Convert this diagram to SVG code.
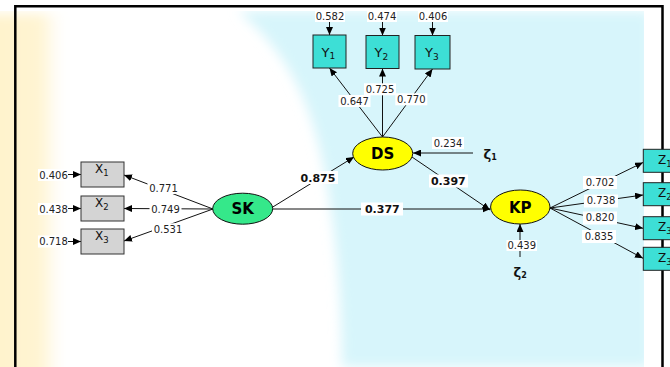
<svg xmlns="http://www.w3.org/2000/svg" width="670" height="367" viewBox="0 0 670 367">
<style>
.num{font-family:"DejaVu Sans",Verdana,sans-serif;font-size:10px;fill:#222;text-anchor:middle}
.bnum{font-family:"DejaVu Sans",Verdana,sans-serif;font-size:11px;font-weight:bold;fill:#111;text-anchor:middle}
.bg{fill:#fff}
.ind{fill:#3ddfd6;stroke:#222;stroke-width:1}
.xin{fill:#d4d4d4;stroke:#333;stroke-width:1}
.lv{stroke:#111;stroke-width:1}
.lvt{font-family:"DejaVu Sans",Verdana,sans-serif;font-size:15px;font-weight:bold;fill:#000;text-anchor:middle}
.it{font-family:"DejaVu Sans",Verdana,sans-serif;fill:#111}
.zeta{font-family:"DejaVu Sans",sans-serif;font-weight:bold;font-size:13px;fill:#111}
.c{stroke:#111;stroke-width:1;fill:none;marker-end:url(#ah)}
</style>
<defs>
<marker id="ah" markerUnits="userSpaceOnUse" markerWidth="8" markerHeight="7" refX="8" refY="3.5" orient="auto">
<path d="M0,0 L8,3.5 L0,7 z" fill="#000"/>
</marker>
<filter id="soft" x="-20%" y="-20%" width="140%" height="140%"><feGaussianBlur stdDeviation="6"/></filter>
<linearGradient id="cream" x1="0" y1="0" x2="1" y2="0">
<stop offset="0" stop-color="#fff2c8"/>
<stop offset="0.75" stop-color="#fff4d2"/>
<stop offset="1" stop-color="#ffffff" stop-opacity="0"/>
</linearGradient>
</defs>
<!-- background -->
<rect x="0" y="0" width="670" height="367" fill="#fff"/>
<rect x="-40" y="14" width="108" height="370" fill="url(#cream)" filter="url(#soft)"/>
<path d="M238,11 L650,11 L650,367 L342,367 C342,300 336,220 320,150 C306,90 280,45 238,11 Z" fill="#d7f5fb" filter="url(#soft)"/>
<rect x="644" y="0" width="30" height="367" fill="#fff"/>
<rect x="0" y="0" width="670" height="11" fill="#fff"/>
<!-- frame -->
<path d="M15.3,372 L15.3,6.3 L662.5,6.3 L662.5,372" fill="none" stroke="#000" stroke-width="2.5"/>

<g id="connectors">
<line class="c" x1="329.5" y1="21" x2="329.5" y2="35"/>
<line class="c" x1="382.5" y1="21" x2="382.5" y2="35.5"/>
<line class="c" x1="432.5" y1="21" x2="432.5" y2="35.5"/>
<line class="c" x1="382.5" y1="137" x2="329.5" y2="68"/>
<line class="c" x1="382.5" y1="137" x2="382.5" y2="68.5"/>
<line class="c" x1="382.5" y1="137" x2="432.5" y2="69"/>
<line class="c" x1="68" y1="174.5" x2="81" y2="174.5"/>
<line class="c" x1="68" y1="208.5" x2="81" y2="208.5"/>
<line class="c" x1="68" y1="241.5" x2="81" y2="241.5"/>
<line class="c" x1="213" y1="209" x2="124" y2="175"/>
<line class="c" x1="213" y1="209" x2="124" y2="208.5"/>
<line class="c" x1="213" y1="209" x2="124" y2="241"/>
<line class="c" x1="272" y1="207.5" x2="354" y2="157"/>
<line class="c" x1="272.7" y1="209" x2="490.5" y2="209"/>
<line class="c" x1="412" y1="157" x2="490" y2="210"/>
<line class="c" x1="473" y1="153" x2="413" y2="153"/>
<line class="c" x1="520" y1="257" x2="520" y2="224"/>
<line class="c" x1="550" y1="208" x2="643" y2="162.5"/>
<line class="c" x1="550" y1="208" x2="643" y2="195"/>
<line class="c" x1="550" y1="208" x2="643" y2="228.3"/>
<line class="c" x1="550" y1="208" x2="643" y2="258.3"/>
</g>

<g id="labels">
<rect class="bg" x="315" y="11" width="30" height="11"/><text class="num" x="330" y="20.2">0.582</text>
<rect class="bg" x="367" y="11" width="30" height="11"/><text class="num" x="382" y="20.2">0.474</text>
<rect class="bg" x="418" y="11" width="30" height="11"/><text class="num" x="433" y="20.2">0.406</text>
<rect class="bg" x="338.5" y="95" width="32" height="12"/><text class="num" x="354.5" y="104.6">0.647</text>
<rect class="bg" x="364" y="83.3" width="32" height="12"/><text class="num" x="380" y="92.9">0.725</text>
<rect class="bg" x="395.3" y="93.3" width="32" height="12"/><text class="num" x="411.3" y="102.9">0.770</text>
<rect class="bg" x="38" y="169" width="30" height="12"/><text class="num" x="53.5" y="178.6">0.406</text>
<rect class="bg" x="38" y="203" width="30" height="12"/><text class="num" x="53.5" y="212.6">0.438</text>
<rect class="bg" x="38" y="235.5" width="30" height="12"/><text class="num" x="53.5" y="245.1">0.718</text>
<rect class="bg" x="147.5" y="182" width="32" height="12"/><text class="num" x="163.5" y="191.6">0.771</text>
<rect class="bg" x="149.5" y="203.3" width="32" height="12"/><text class="num" x="165.5" y="212.9">0.749</text>
<rect class="bg" x="152" y="223.3" width="32" height="12"/><text class="num" x="168" y="232.9">0.531</text>
<rect class="bg" x="298" y="171" width="40" height="13"/><text class="bnum" x="318" y="181.5">0.875</text>
<rect class="bg" x="429" y="174.5" width="39" height="13"/><text class="bnum" x="448.3" y="185">0.397</text>
<rect class="bg" x="361" y="202.5" width="42" height="13"/><text class="bnum" x="382.3" y="213">0.377</text>
<rect class="bg" x="432" y="137" width="32" height="12"/><text class="num" x="448" y="146.9">0.234</text>
<rect class="bg" x="506.5" y="240" width="30.5" height="11"/><text class="num" x="521.7" y="249.1">0.439</text>
<rect class="bg" x="583" y="176" width="34" height="13"/><text class="num" x="600" y="185.9">0.702</text>
<rect class="bg" x="584" y="194.5" width="34" height="13"/><text class="num" x="601" y="204.3">0.738</text>
<rect class="bg" x="583" y="211.5" width="34" height="13"/><text class="num" x="600" y="221.3">0.820</text>
<rect class="bg" x="582" y="230" width="34" height="13"/><text class="num" x="599" y="239.6">0.835</text>
</g>

<g id="Y1"><rect class="ind" x="313" y="35" width="33" height="33"/><text class="it" x="321.5" y="56.5" font-size="13">Y<tspan font-size="9" dy="2.5">1</tspan></text></g>
<g id="Y2"><rect class="ind" x="366" y="35.5" width="33" height="33"/><text class="it" x="374.5" y="57" font-size="13">Y<tspan font-size="9" dy="2.5">2</tspan></text></g>
<g id="Y3"><rect class="ind" x="415" y="35.5" width="35" height="33.5"/><text class="it" x="425" y="57" font-size="13">Y<tspan font-size="9" dy="2.5">3</tspan></text></g>

<g id="X1"><rect class="xin" x="81" y="162" width="43" height="25"/><text class="it" x="95" y="173.3" font-size="12">X<tspan font-size="8.5" dy="2.5">1</tspan></text></g>
<g id="X2"><rect class="xin" x="81" y="196" width="43" height="25"/><text class="it" x="95" y="207.3" font-size="12">X<tspan font-size="8.5" dy="2.5">2</tspan></text></g>
<g id="X3"><rect class="xin" x="81" y="229" width="43" height="25"/><text class="it" x="95" y="240.3" font-size="12">X<tspan font-size="8.5" dy="2.5">3</tspan></text></g>

<g id="Z1"><rect class="ind" x="643.3" y="149.3" width="36" height="23"/><text class="it" x="658" y="164" font-size="12">Z<tspan font-size="8.5" dy="2.5">1</tspan></text></g>
<g id="Z2"><rect class="ind" x="643.3" y="182.7" width="36" height="23"/><text class="it" x="658" y="197.4" font-size="12">Z<tspan font-size="8.5" dy="2.5">2</tspan></text></g>
<g id="Z3"><rect class="ind" x="643.3" y="216.7" width="36" height="23"/><text class="it" x="658" y="231.4" font-size="12">Z<tspan font-size="8.5" dy="2.5">3</tspan></text></g>
<g id="Z4"><rect class="ind" x="643.3" y="247.3" width="36" height="23"/><text class="it" x="658" y="262" font-size="12">Z<tspan font-size="8.5" dy="2.5">3</tspan></text></g>

<g id="SK"><ellipse class="lv" cx="242.7" cy="208.7" rx="30" ry="15.5" fill="#35e88a"/><text class="lvt" x="242.7" y="214.2">SK</text></g>
<g id="DS"><ellipse class="lv" cx="382.7" cy="153.5" rx="30" ry="16.5" fill="#ffff00"/><text class="lvt" x="382.7" y="159">DS</text></g>
<g id="KP"><ellipse class="lv" cx="520.3" cy="207" rx="29.7" ry="17" fill="#ffff00"/><text class="lvt" x="520.3" y="212.5">KP</text></g>

<g id="zeta1"><text class="zeta" x="483.5" y="159">ζ<tspan font-size="8" dy="1">1</tspan></text></g>
<g id="zeta2"><text class="zeta" x="513.5" y="276.5">ζ<tspan font-size="8" dy="1">2</tspan></text></g>
</svg>
